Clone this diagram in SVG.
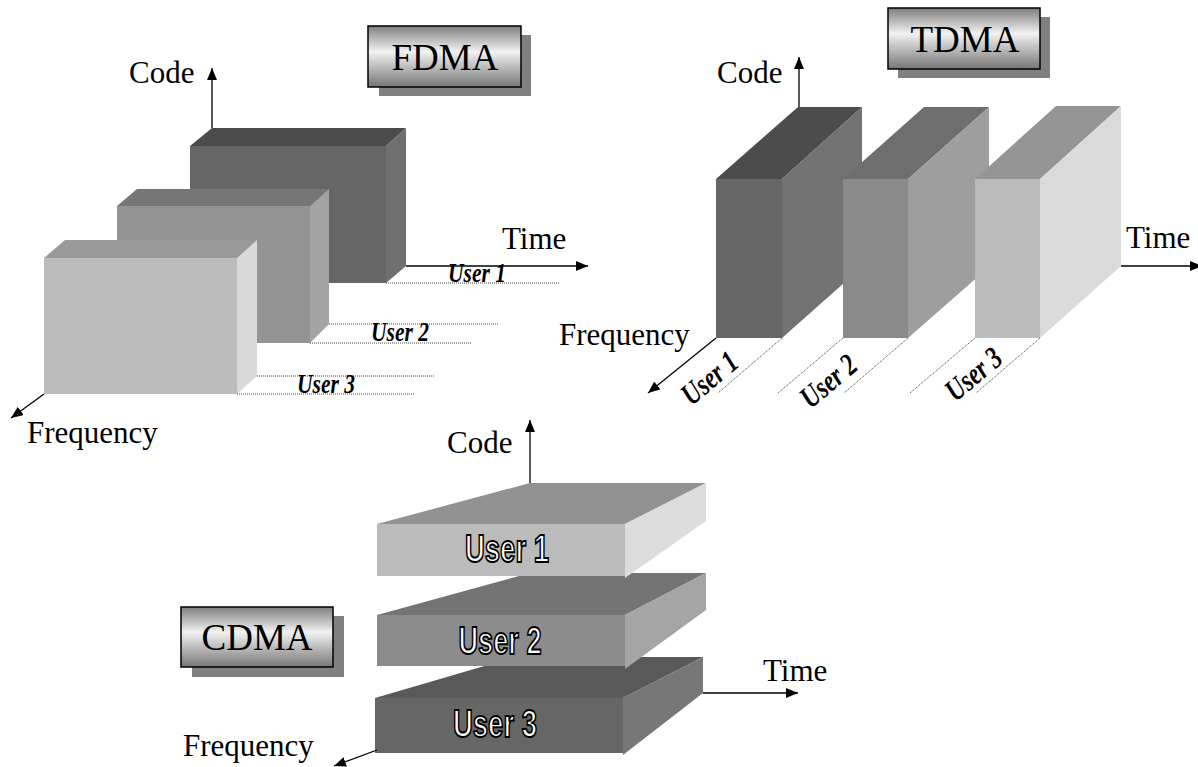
<svg xmlns="http://www.w3.org/2000/svg" width="1198" height="767" viewBox="0 0 1198 767">
  <defs>
    <linearGradient id="boxShade" x1="0" y1="0" x2="0" y2="1">
      <stop offset="0" stop-color="#7e7e7e"/>
      <stop offset="0.42" stop-color="#f2f2f2"/>
      <stop offset="1" stop-color="#767676"/>
    </linearGradient>
    <marker id="arrow" viewBox="0 0 12 10" refX="12" refY="5" markerWidth="12" markerHeight="10" markerUnits="userSpaceOnUse" orient="auto">
      <path d="M0,0 L12,5 L0,10 z" fill="#000"/>
    </marker>
  </defs>
  <style>
    .axis { stroke: #000; stroke-width: 1.3; fill: none; marker-end: url(#arrow); }
    .dot { stroke: #444; stroke-width: 1; stroke-dasharray: 1 1; fill: none; }
    .lbl { font-family: "Liberation Serif", "Times New Roman", serif; font-size: 31px; fill: #000; }
    .title { font-family: "Liberation Serif", "Times New Roman", serif; font-size: 37px; fill: #000; text-anchor: middle; }
    .tagbox { fill: url(#boxShade); stroke: #000; stroke-width: 1.5; }
    .shadow { fill: #808080; }
    .ital { font-family: "Liberation Serif", "Times New Roman", serif; font-style: italic; font-weight: bold; fill: #000; text-anchor: middle; }
    .bold { font-family: "Liberation Sans", Arial, sans-serif; font-weight: bold; font-size: 39px; fill: #fff; stroke: #000; stroke-width: 2; text-anchor: middle; }
  </style>

  <!-- ===== FDMA ===== -->
  <g id="fdma-tag">
    <rect class="shadow" x="379" y="35" width="152" height="61"/>
    <rect class="tagbox" x="368" y="26" width="153" height="61"/>
    <text class="title" x="445" y="70">FDMA</text>
  </g>
  <g id="fdma-user1">
    <polygon points="190,146 386,146 406,128 212,128" fill="#4b4b4b"/>
    <polygon points="190,146 386,146 386,283 190,283" fill="#666666"/>
    <polygon points="386,146 406,128 406,266 386,283" fill="#6f6f6f"/>
  </g>
  <g id="fdma-user2">
    <polygon points="117,206 310,206 329,189 137,189" fill="#767676"/>
    <polygon points="117,206 310,206 310,343 117,343" fill="#939393"/>
    <polygon points="310,206 329,189 329,324 310,343" fill="#a3a3a3"/>
  </g>
  <g id="fdma-user3">
    <polygon points="44,258 237,258 257,240 65,240" fill="#999999"/>
    <polygon points="44,258 237,258 237,394 44,394" fill="#bbbbbb"/>
    <polygon points="237,258 257,240 257,376 237,394" fill="#d9d9d9"/>
  </g>
  <g id="fdma-axes">
    <line class="axis" x1="212" y1="128" x2="212" y2="68"/>
    <line class="axis" x1="406" y1="266" x2="588" y2="266"/>
    <line class="axis" x1="44" y1="394" x2="11" y2="418"/>
    <line class="dot" x1="386" y1="283" x2="559" y2="283"/>
    <line class="dot" x1="329" y1="324" x2="499" y2="324"/>
    <line class="dot" x1="310" y1="343" x2="471" y2="343"/>
    <line class="dot" x1="257" y1="376" x2="435" y2="376"/>
    <line class="dot" x1="237" y1="394" x2="415" y2="394"/>
  </g>
  <text class="lbl" x="129" y="83">Code</text>
  <text class="lbl" x="502" y="249">Time</text>
  <text class="lbl" x="27" y="443">Frequency</text>
  <text class="ital" x="477" y="282" font-size="27" textLength="58" lengthAdjust="spacingAndGlyphs">User 1</text>
  <text class="ital" x="400" y="341" font-size="27" textLength="58" lengthAdjust="spacingAndGlyphs">User 2</text>
  <text class="ital" x="326" y="393" font-size="27" textLength="58" lengthAdjust="spacingAndGlyphs">User 3</text>

  <!-- ===== TDMA ===== -->
  <g id="tdma-tag">
    <rect class="shadow" x="898" y="17" width="152" height="61"/>
    <rect class="tagbox" x="888" y="8" width="152" height="61"/>
    <text class="title" x="965" y="52">TDMA</text>
  </g>
  <g id="tdma-user1">
    <polygon points="716,179 782,179 862,107 798,107" fill="#4c4c4c"/>
    <polygon points="716,179 782,179 782,338 716,338" fill="#666666"/>
    <polygon points="782,179 862,107 862,267 782,338" fill="#727272"/>
  </g>
  <g id="tdma-user2">
    <polygon points="843,179 908,179 989,107 924,107" fill="#6e6e6e"/>
    <polygon points="843,179 908,179 908,338 843,338" fill="#8a8a8a"/>
    <polygon points="908,179 989,107 989,267 908,338" fill="#9e9e9e"/>
  </g>
  <g id="tdma-user3">
    <polygon points="975,179 1040,179 1121,106 1056,106" fill="#959595"/>
    <polygon points="975,179 1040,179 1040,338 975,338" fill="#bbbbbb"/>
    <polygon points="1040,179 1121,106 1121,266 1040,338" fill="#dadada"/>
  </g>
  <g id="tdma-axes">
    <line class="axis" x1="799" y1="107" x2="799" y2="57"/>
    <line class="axis" x1="1121" y1="266" x2="1202" y2="266"/>
    <line class="axis" x1="716" y1="338" x2="648" y2="393"/>
    <line class="dot" x1="782" y1="338" x2="718" y2="393"/>
    <line class="dot" x1="843" y1="338" x2="778" y2="393"/>
    <line class="dot" x1="908" y1="338" x2="844" y2="393"/>
    <line class="dot" x1="975" y1="338" x2="910" y2="393"/>
    <line class="dot" x1="1040" y1="338" x2="976" y2="393"/>
  </g>
  <text class="lbl" x="717" y="83">Code</text>
  <text class="lbl" x="1126" y="248">Time</text>
  <text class="lbl" x="559" y="345">Frequency</text>
  <text class="ital" font-size="31" textLength="64" lengthAdjust="spacingAndGlyphs" transform="translate(716,386) rotate(-40)">User 1</text>
  <text class="ital" font-size="31" textLength="64" lengthAdjust="spacingAndGlyphs" transform="translate(835,389) rotate(-40)">User 2</text>
  <text class="ital" font-size="31" textLength="64" lengthAdjust="spacingAndGlyphs" transform="translate(980,382) rotate(-40)">User 3</text>

  <!-- ===== CDMA ===== -->
  <g id="cdma-tag">
    <rect class="shadow" x="192" y="616" width="152" height="61"/>
    <rect class="tagbox" x="181" y="607" width="152" height="60"/>
    <text class="title" x="257" y="650">CDMA</text>
  </g>
  <g id="cdma-user3">
    <polygon points="375,698 623,698 703,657 515,657" fill="#595959"/>
    <polygon points="375,698 623,698 623,753 375,753" fill="#666666"/>
    <polygon points="623,698 703,657 703,693 623,755" fill="#777777"/>
  </g>
  <g id="cdma-user2">
    <polygon points="377,615 625,615 706,573 530,573" fill="#747474"/>
    <polygon points="377,615 625,615 625,666 377,666" fill="#8c8c8c"/>
    <polygon points="625,615 706,573 706,610 625,669" fill="#a5a5a5"/>
  </g>
  <g id="cdma-user1">
    <polygon points="377,524 625,524 706,483 530,483" fill="#929292"/>
    <polygon points="377,524 625,524 625,576 377,576" fill="#bbbbbb"/>
    <polygon points="625,524 706,483 706,521 625,578" fill="#dcdcdc"/>
  </g>
  <g id="cdma-axes">
    <line class="axis" x1="530" y1="483" x2="530" y2="420"/>
    <line class="axis" x1="703" y1="693" x2="798" y2="693"/>
    <line class="axis" x1="377" y1="750" x2="334" y2="766"/>
  </g>
  <text class="lbl" x="447" y="453">Code</text>
  <text class="lbl" x="763" y="681">Time</text>
  <text class="lbl" x="183" y="756">Frequency</text>
  <text class="bold" x="507" y="562" textLength="84" lengthAdjust="spacingAndGlyphs">User 1</text>
  <text class="bold" x="500" y="654" textLength="83" lengthAdjust="spacingAndGlyphs">User 2</text>
  <text class="bold" x="495" y="737" textLength="84" lengthAdjust="spacingAndGlyphs">User 3</text>
</svg>
